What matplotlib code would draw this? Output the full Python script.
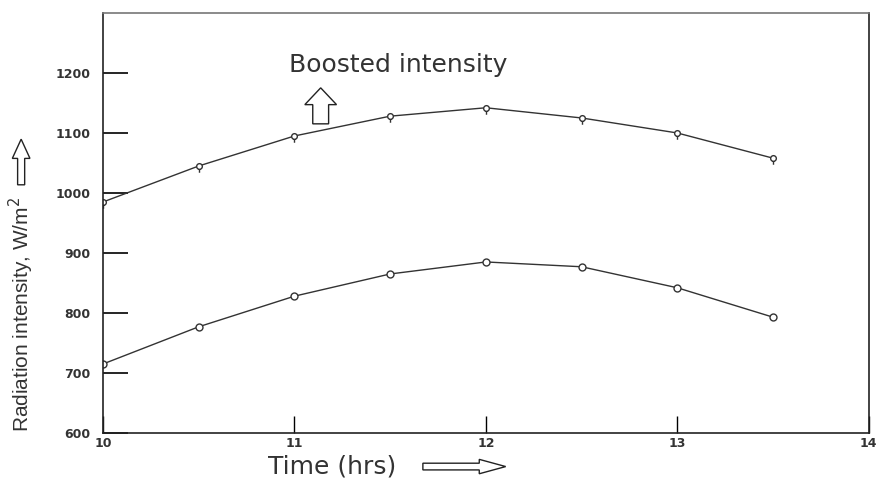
import numpy as np
import matplotlib.pyplot as plt
from matplotlib.path import Path
from matplotlib.patches import FancyArrow

# Data
time_hrs = [10, 10.5, 11, 11.5, 12, 12.5, 13, 13.5]
normal_intensity = [715, 777, 828, 865, 885, 877, 842, 793]
boosted_intensity = [985, 1045, 1095, 1128, 1142, 1125, 1100, 1058]

x_ticks = [10, 11, 12, 13, 14]
y_ticks = [600, 700, 800, 900, 1000, 1100, 1200]

# circle with a small stem below (marker used for the boosted curve)
circ = Path.unit_circle()
stem_verts = np.concatenate([circ.vertices, [[0, -1], [0, -2.2]]])
stem_codes = np.concatenate([circ.codes, [Path.MOVETO, Path.LINETO]])
stem_marker = Path(stem_verts, stem_codes)

fig = plt.figure(figsize=(8.81, 4.8), dpi=100)
ax = fig.add_axes([0.117, 0.098, 0.869, 0.875])

ax.plot(time_hrs, normal_intensity, color='#333333', lw=1.0, marker='o',
        markersize=5, markerfacecolor='white', markeredgecolor='#333333', markeredgewidth=1.0)
ax.plot(time_hrs, boosted_intensity, color='#333333', lw=1.0, marker=stem_marker,
        markersize=9, markerfacecolor='white', markeredgecolor='#333333', markeredgewidth=1.0)

ax.set_xlim(10, 14)
ax.set_ylim(600, 1300)
ax.set_xticks(x_ticks)
ax.set_yticks(y_ticks)
ax.set_xticklabels([str(t) for t in x_ticks], fontsize=9, color='#333333', fontweight='bold')
ax.set_yticklabels([str(t) for t in y_ticks], fontsize=9, color='#333333', fontweight='bold')
ax.tick_params(axis='y', direction='in', length=18, width=1.2, pad=9)
ax.tick_params(axis='x', direction='in', length=12, width=1.0, pad=3)

for s in ax.spines.values():
    s.set_linewidth(1.2)
    s.set_color('#222222')
ax.spines['top'].set_color('#777777')

# y label with hollow up arrow
fig.text(0.024, 0.345, 'Radiation intensity, W/m$^2$', rotation=90, ha='center', va='center',
         fontsize=15, family=['Liberation Sans', 'DejaVu Sans'], color='#333333')
fig.patches.append(FancyArrow(
    0.024, 0.615, 0, 0.095, width=0.008, head_width=0.02, head_length=0.04,
    transform=fig.transFigure, fc='white', ec='#222222', lw=1.0, length_includes_head=True))

# x label with hollow right arrow
fig.text(0.377, 0.028, 'Time (hrs)', ha='center', va='center', fontsize=18,
         family=['DejaVu Sans'], color='#333333')
fig.patches.append(FancyArrow(
    0.48, 0.028, 0.094, 0, width=0.014, head_width=0.03, head_length=0.03,
    transform=fig.transFigure, fc='white', ec='#222222', lw=1.0, length_includes_head=True))

# boosted intensity annotation
ax.text(11.54, 1213, 'Boosted intensity', ha='center', va='center', fontsize=18,
        family=['DejaVu Sans'], color='#333333')
fig.patches.append(FancyArrow(
    0.364, 0.742, 0, 0.075, width=0.018, head_width=0.036, head_length=0.035,
    transform=fig.transFigure, fc='white', ec='#222222', lw=1.0, length_includes_head=True))

fig.savefig('out.png', dpi=100)
